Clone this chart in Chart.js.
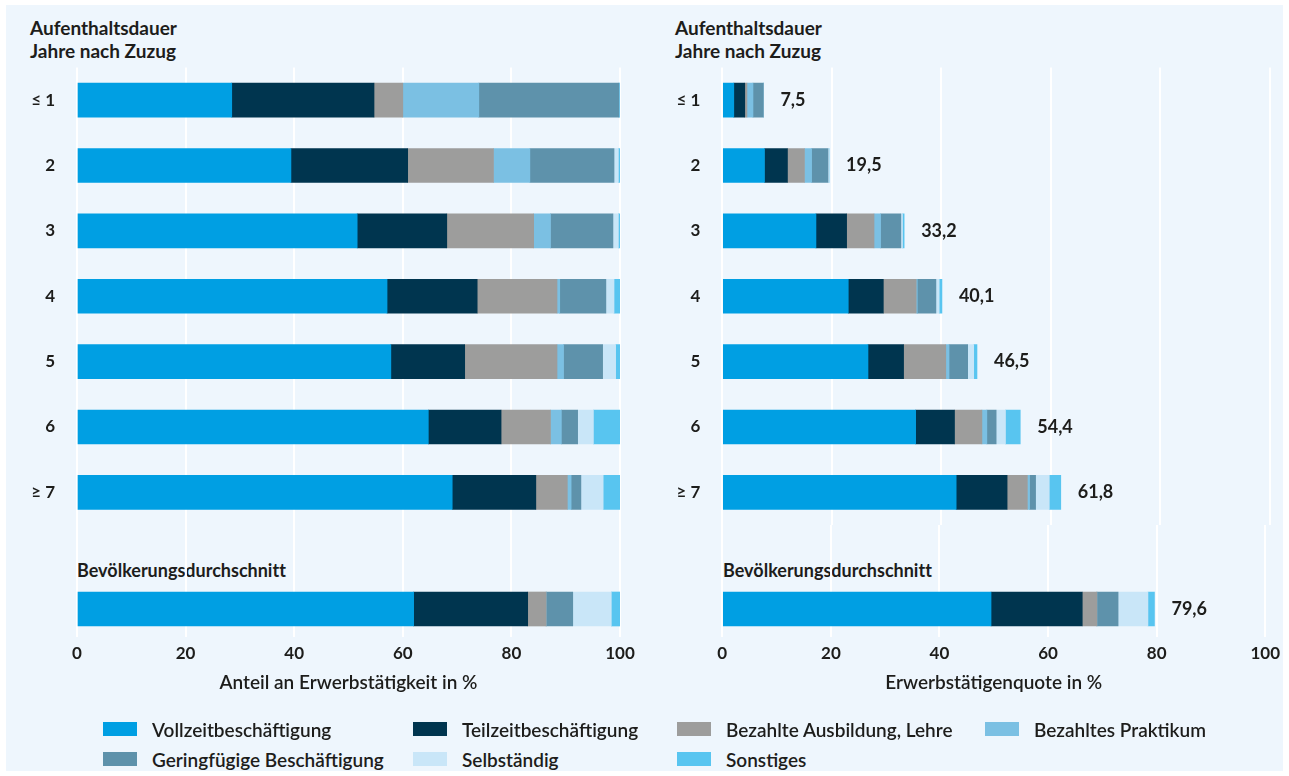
<!DOCTYPE html>
<html><head><meta charset="utf-8">
<script src="https://cdn.jsdelivr.net/npm/chart.js@4.4.1/dist/chart.umd.min.js"></script>
<style>
body{margin:0;background:#fff;width:1289px;height:776px;overflow:hidden;position:relative;font-family:Lato,'Noto Sans',sans-serif;color:#1d1d1b}
#bg{position:absolute;left:6px;top:5px;width:1277px;height:766px;background:#eef6fd}
canvas{position:absolute}
.hdr{position:absolute;font-weight:700;font-size:19px;line-height:23px;white-space:nowrap}
.bev{position:absolute;font-weight:700;font-size:18px;line-height:23px;white-space:nowrap;font-variant-ligatures:none}
.lg{position:absolute;font-size:19px;font-weight:600;display:flex;align-items:center;height:22px;white-space:nowrap}
.lg .box{display:inline-block;width:34px;height:14px;margin-right:15px}
</style></head><body>
<div id="bg"></div>
<div class="hdr" style="left:30px;top:16px">Aufenthaltsdauer<br>Jahre nach Zuzug</div>
<div class="hdr" style="left:675px;top:16px">Aufenthaltsdauer<br>Jahre nach Zuzug</div>
<div class="bev" style="left:77px;top:559px">Bevölkerungsdurchschnitt</div>
<div class="bev" style="left:723px;top:559px">Bevölkerungsdurchschnitt</div>
<canvas id="cL1" width="640" height="520" style="left:6px;top:5px"></canvas>
<canvas id="cL2" width="640" height="200" style="left:6px;top:525px"></canvas>
<canvas id="cR1" width="640" height="520" style="left:646px;top:5px"></canvas>
<canvas id="cR2" width="640" height="200" style="left:646px;top:525px"></canvas>
<div id="legend"></div>
<script>
// ---- Data ----
const categories = ['≤ 1', '2', '3', '4', '5', '6', '≥ 7'];
const seriesNames = ['Vollzeitbeschäftigung', 'Teilzeitbeschäftigung', 'Bezahlte Ausbildung, Lehre', 'Bezahltes Praktikum', 'Geringfügige Beschäftigung', 'Selbständig', 'Sonstiges'];
const seriesColors = ['#009fe3', '#00354f', '#9d9d9c', '#7bc0e3', '#5e92ab', '#c9e6f8', '#58c5f0'];

// Left: Anteil an Erwerbstätigkeit in %
const shareVollzeit    = [28.5, 39.4, 51.6, 57.1, 57.8, 64.7, 69.1];
const shareTeilzeit    = [26.2, 21.5, 16.5, 16.6, 13.6, 13.4, 15.4];
const shareAusbildung  = [5.3, 15.8, 16.0, 14.7, 17.0, 9.1, 5.8];
const sharePraktikum   = [14.0, 6.7, 3.1, 0.5, 1.2, 2.0, 0.7];
const shareGeringfuegig= [25.8, 15.5, 11.5, 8.5, 7.2, 3.0, 1.8];
const shareSelbstaendig= [0.0, 0.8, 1.0, 1.5, 2.4, 2.9, 4.1];
const shareSonstiges   = [0.2, 0.3, 0.3, 1.1, 0.8, 4.9, 3.1];
const shareBevoelkerung= [62.0, 21.0, 3.4, 0.0, 4.9, 7.1, 1.6];

// Right: Erwerbstätigenquote in %
const quoteVollzeit    = [2.1, 7.7, 17.1, 23.0, 26.6, 35.3, 42.7];
const quoteTeilzeit    = [2.0, 4.2, 5.6, 6.4, 6.5, 7.1, 9.3];
const quoteAusbildung  = [0.4, 3.1, 5.0, 6.0, 7.7, 5.0, 3.7];
const quotePraktikum   = [1.1, 1.3, 1.2, 0.2, 0.6, 0.9, 0.4];
const quoteGeringfuegig= [1.9, 3.0, 3.7, 3.4, 3.4, 1.7, 1.1];
const quoteSelbstaendig= [0.0, 0.15, 0.3, 0.6, 1.1, 1.7, 2.5];
const quoteSonstiges   = [0.0, 0.05, 0.3, 0.5, 0.6, 2.7, 2.1];
const quoteBevoelkerung= [49.5, 16.8, 2.7, 0.0, 3.9, 5.5, 1.2];
const quoteTotals      = [7.5, 19.5, 33.2, 40.1, 46.5, 54.4, 61.8];
const quoteTotalBevoelkerung = 79.6;

const xTicks = [0, 20, 40, 60, 80, 100];
const leftAxisTitle = 'Anteil an Erwerbstätigkeit in %';
const rightAxisTitle = 'Erwerbstätigenquote in %';

// ---- Rendering ----
const TXT = '#1d1d1b';
const FONT = 'Lato, "Noto Sans", sans-serif';
const GRID = 'rgba(255,255,255,0.95)';

const fmt = v => v.toFixed(1).replace('.', ',');

const valueLabels = {
  id: 'valueLabels',
  afterDatasetsDraw(chart, args, opts) {
    if (!opts || !opts.values) return;
    const ctx = chart.ctx, xs = chart.scales.x, ys = chart.scales.y;
    ctx.save();
    ctx.font = 'bold 18px ' + FONT;
    ctx.fillStyle = TXT;
    ctx.textAlign = 'left';
    ctx.textBaseline = 'middle';
    opts.values.forEach((v, i) => {
      if (v == null) return;
      ctx.fillText(fmt(v), xs.getPixelForValue(v) + 17, ys.getPixelForValue(i));
    });
    ctx.restore();
  }
};

function makeChart(id, labels, seriesData, opts) {
  const datasets = seriesData.map((d, i) => ({
    label: seriesNames[i], data: d, backgroundColor: seriesColors[i],
    borderWidth: 0, barThickness: 34
  }));
  return new Chart(document.getElementById(id), {
    type: 'bar',
    data: { labels, datasets },
    plugins: [valueLabels],
    options: {
      indexAxis: 'y', responsive: false, animation: false, devicePixelRatio: 1,
      layout: { padding: opts.padding },
      plugins: { legend: { display: false }, tooltip: { enabled: false }, title: { display: false },
                 valueLabels: { values: opts.values } },
      scales: {
        x: {
          stacked: true, min: 0, max: 100,
          afterBuildTicks: s => { s.ticks = xTicks.map(v => ({ value: v })); },
          grid: { display: true, color: GRID, lineWidth: 2, drawTicks: false },
          border: { display: false },
          ticks: { display: opts.showX, padding: 6, color: TXT, font: { family: FONT, size: 17, weight: 'bold' } },
          title: { display: opts.showX, text: opts.xTitle, color: TXT, padding: 0,
                   font: { family: FONT, size: 19, weight: '600' } },
          afterFit: s => { s.height = opts.showX ? 57 : 0; }
        },
        y: {
          stacked: true,
          grid: { display: false, drawTicks: false },
          border: { display: false },
          ticks: { padding: 22, color: TXT, font: { family: FONT, size: 17, weight: 'bold' } },
          afterFit: s => { s.width = opts.yWidth; s.paddingTop = 0; s.paddingBottom = 0; }
        }
      }
    }
  });
}

const leftSeries = [shareVollzeit, shareTeilzeit, shareAusbildung, sharePraktikum, shareGeringfuegig, shareSelbstaendig, shareSonstiges];
const rightSeries = [quoteVollzeit, quoteTeilzeit, quoteAusbildung, quotePraktikum, quoteGeringfuegig, quoteSelbstaendig, quoteSonstiges];

makeChart('cL1', categories, leftSeries,
  { padding: { top: 62.5, right: 26, bottom: 0, left: 0 }, yWidth: 71, showX: false });
makeChart('cL2', ['', ''], shareBevoelkerung.map(v => [null, v]),
  { padding: { top: 0, right: 26, bottom: 31, left: 0 }, yWidth: 71, showX: true, xTitle: leftAxisTitle });
makeChart('cR1', categories, rightSeries,
  { padding: { top: 62.5, right: 16, bottom: 0, left: 0 }, yWidth: 76.3, showX: false, values: quoteTotals });
makeChart('cR2', ['', ''], quoteBevoelkerung.map(v => [null, v]),
  { padding: { top: 0, right: 16, bottom: 31, left: 0 }, yWidth: 76.3, showX: true, xTitle: rightAxisTitle,
    values: [null, quoteTotalBevoelkerung] });

// Legend
const lgCols = [103, 413, 677, 985];
const lgRows = [729, 759];
const lg = document.getElementById('legend');
seriesNames.forEach((n, i) => {
  const d = document.createElement('div');
  d.className = 'lg';
  d.style.left = lgCols[i % 4] + 'px';
  d.style.top = (lgRows[Math.floor(i / 4)] - 11) + 'px';
  const b = document.createElement('span');
  b.className = 'box'; b.style.background = seriesColors[i];
  d.appendChild(b);
  d.appendChild(document.createTextNode(n));
  lg.appendChild(d);
});
</script>
</body></html>
